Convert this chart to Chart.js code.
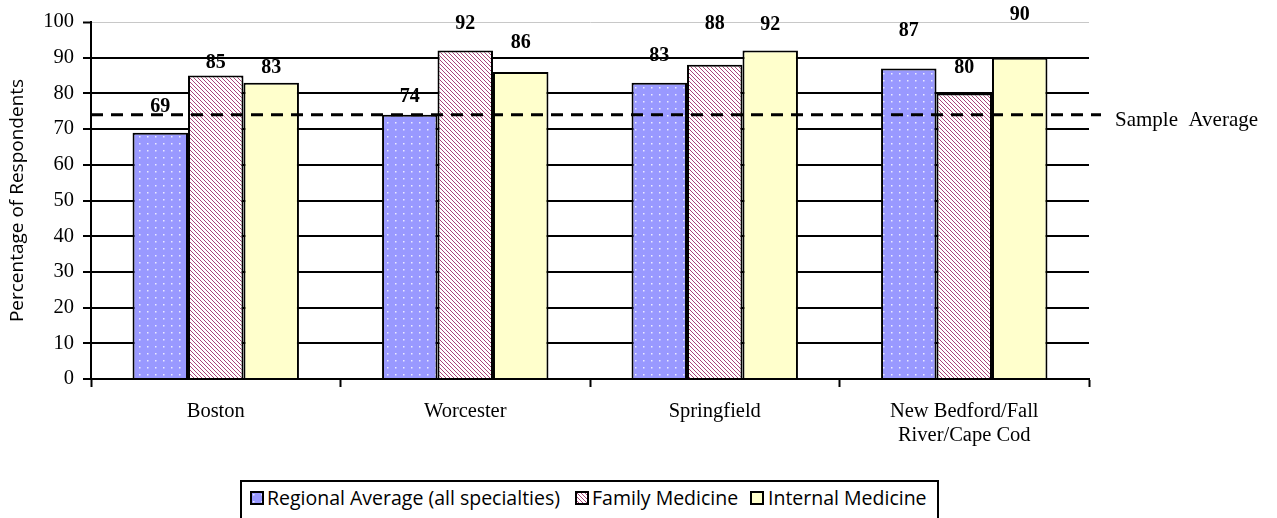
<!DOCTYPE html>
<html>
<head>
<meta charset="utf-8">
<script src="https://cdn.jsdelivr.net/npm/chart.js@4/dist/chart.umd.min.js"></script>
<style>
  body { margin: 0; background: #fff; }
  #wrap { position: relative; width: 1277px; height: 518px; overflow: hidden; }
  #legend {
    position: absolute; left: 240px; top: 480px; width: 695px; height: 60px;
    border: 2px solid #000; background: #fff;
    font-family: "Open Sans", "Noto Sans", sans-serif; font-size: 19.5px; color: #000;
  }
  #legend span { position: absolute; top: 2px; white-space: nowrap; line-height: 28px; }
  #legend canvas { position: absolute; top: 9px; }
</style>
</head>
<body>
<div id="wrap">
  <canvas id="chart" width="1277" height="518"></canvas>
  <div id="legend"></div>
</div>
<script>
// data
var regions = ['Boston', 'Worcester', 'Springfield', ['New Bedford/Fall', 'River/Cape Cod']];
var seriesNames = ['Regional Average (all specialties)', 'Family Medicine', 'Internal Medicine'];
var regionalAvg = [69, 74, 83, 87];
var familyMed = [85, 92, 88, 80];
var internalMed = [83, 86, 92, 90];
var sampleAverage = 74;
var yTicks = [0, 10, 20, 30, 40, 50, 60, 70, 80, 90, 100];

// how far each value label sits above its bar (px), as in the original
var labelLift = [[26, 18, 27, 38], [13, 27, 41, 26], [15, 29, 26, 43]];

function dotPattern() {
    var c = document.createElement('canvas');
    c.width = 8; c.height = 7;
    var g = c.getContext('2d');
    g.fillStyle = '#9999FF';
    g.fillRect(0, 0, 8, 7);
    g.fillStyle = 'rgba(255,255,255,0.8)';
    g.fillRect(3, 3, 1.5, 1.5);
    return g.createPattern(c, 'repeat');
}

function hatchPattern() {
    var c = document.createElement('canvas');
    c.width = 4; c.height = 4;
    var g = c.getContext('2d');
    g.fillStyle = '#ffffff';
    g.fillRect(0, 0, 4, 4);
    g.strokeStyle = '#A8457A';
    g.lineWidth = 1;
    for (var x = -4; x <= 4; x += 4) {
        g.beginPath();
        g.moveTo(x, 0);
        g.lineTo(x + 4, 4);
        g.stroke();
    }
    return g.createPattern(c, 'repeat');
}

var fills = [dotPattern(), hatchPattern(), '#FFFFCC'];

var extras = {
    id: 'extras',
    afterDatasetsDraw: function (chart) {
        var ctx = chart.ctx, area = chart.chartArea, y = chart.scales.y;
        // sample average dashed line
        var yy = y.getPixelForValue(sampleAverage);
        ctx.save();
        ctx.strokeStyle = '#000';
        ctx.lineWidth = 3;
        ctx.setLineDash([12, 8]);
        ctx.beginPath();
        ctx.moveTo(area.left, yy);
        ctx.lineTo(area.right + 12, yy);
        ctx.stroke();
        ctx.setLineDash([]);
        ctx.font = '21px "Liberation Serif", "Times New Roman", serif';
        ctx.fillStyle = '#000';
        ctx.textBaseline = 'middle';
        ctx.textAlign = 'left';
        ctx.fillText('Sample  Average', 1115, yy + 6);

        // value labels
        ctx.font = 'bold 20px "Liberation Serif", "Times New Roman", serif';
        ctx.textAlign = 'center';
        chart.data.datasets.forEach(function (ds, i) {
            chart.getDatasetMeta(i).data.forEach(function (bar, j) {
                ctx.fillText(ds.data[j], bar.x, bar.y - labelLift[i][j]);
            });
        });
        ctx.restore();
    }
};

var serif = { family: '"Liberation Serif", "Times New Roman", serif', size: 20.5 };

new Chart(document.getElementById('chart'), {
    type: 'bar',
    data: {
        labels: regions,
        datasets: [
            { label: seriesNames[0], data: regionalAvg, backgroundColor: fills[0] },
            { label: seriesNames[1], data: familyMed, backgroundColor: fills[1] },
            { label: seriesNames[2], data: internalMed, backgroundColor: fills[2] }
        ].map(function (d) {
            d.borderColor = '#000';
            d.borderWidth = 2;
            d.categoryPercentage = 0.667;
            d.barPercentage = 1;
            return d;
        })
    },
    options: {
        responsive: false,
        animation: false,
        layout: { padding: { top: 22, right: 188, left: 0, bottom: 0 } },
        plugins: {
            legend: { display: false },
            tooltip: { enabled: false }
        },
        scales: {
            x: {
                afterFit: function (s) { s.height = 139; },
                border: { color: '#000', width: 2 },
                grid: { offset: true, drawOnChartArea: false, tickLength: 8, tickColor: '#000', tickWidth: 2 },
                ticks: { color: '#000', font: serif, padding: 12, maxRotation: 0 }
            },
            y: {
                min: 0,
                max: 100,
                afterFit: function (s) { s.width = 91; },
                afterBuildTicks: function (s) {
                    s.ticks = yTicks.map(function (v) { return { value: v }; });
                },
                border: { color: '#000', width: 2 },
                grid: {
                    color: function (c) { return c.tick && c.tick.value === 100 ? '#c8c8c8' : '#000'; },
                    lineWidth: function (c) { return c.tick && c.tick.value === 100 ? 1 : 2; },
                    tickLength: 8,
                    tickColor: '#000',
                    tickWidth: 2
                },
                ticks: { color: '#000', font: serif, padding: 9 },
                title: {
                    display: true,
                    text: 'Percentage of Respondents',
                    color: '#000',
                    font: { family: '"Open Sans", "Noto Sans", sans-serif', size: 19 },
                    padding: { top: 6, bottom: 0 }
                }
            }
        }
    },
    plugins: [extras]
});

// legend box under the chart
var legend = document.getElementById('legend');
var legendX = [[8, 25], [333, 350], [508, 526]];
seriesNames.forEach(function (name, i) {
    var sw = document.createElement('canvas');
    sw.width = 14; sw.height = 14;
    sw.style.left = legendX[i][0] + 'px';
    var g = sw.getContext('2d');
    g.fillStyle = fills[i];
    g.fillRect(0, 0, 14, 14);
    g.strokeStyle = '#000';
    g.lineWidth = 2;
    g.strokeRect(1, 1, 12, 12);
    legend.appendChild(sw);
    var t = document.createElement('span');
    t.textContent = name;
    t.style.left = legendX[i][1] + 'px';
    legend.appendChild(t);
});
</script>
</body>
</html>
